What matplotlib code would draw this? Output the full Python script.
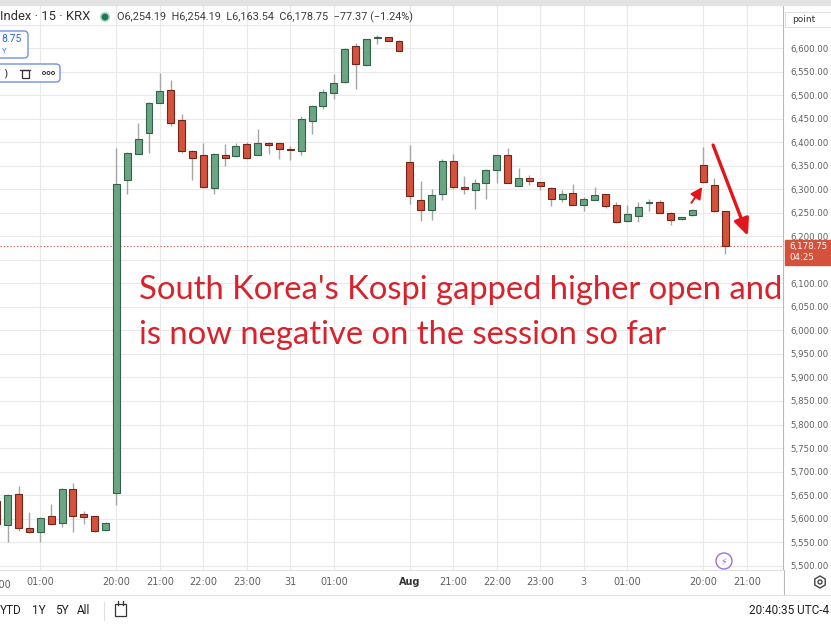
import numpy as np
import matplotlib.pyplot as plt
from matplotlib.patches import Rectangle, FancyBboxPatch, Circle, RegularPolygon

W, H = 831, 625

# 15 min candles, first one is partly cut off at the left edge
opens = [5638, 5587, 5653, 5581, 5572, 5605, 5591, 5663, 5610, 5605, 5575,
         5655, 6319, 6376, 6420, 6484, 6511, 6447, 6382, 6373, 6303, 6373, 6371, 6396, 6374,
         6399, 6398, 6386, 6381, 6445, 6477, 6504, 6528, 6605, 6564, 6621, 6623, 6615,
         6357, 6278, 6257, 6289, 6360, 6304, 6299, 6314, 6340, 6373, 6308, 6323, 6315,
         6303, 6280, 6293, 6267, 6278, 6289, 6266, 6232, 6243, 6271, 6272, 6250, 6236, 6245,
         6351, 6310, 6254.19]
highs = [5640, 5653, 5669, 5613, 5603, 5631, 5664, 5676, 5616, 5606, 5592,
         6387, 6380, 6442, 6486, 6548, 6532, 6461, 6384, 6398, 6377, 6396, 6398, 6401, 6428,
         6401, 6399, 6392, 6456, 6479, 6514, 6546, 6600, 6610, 6620, 6629, 6624, 6617,
         6394, 6318, 6301, 6364, 6376, 6328, 6321, 6344, 6373, 6387, 6346, 6330, 6316,
         6305, 6298, 6311, 6284, 6305, 6290, 6274, 6267, 6274, 6280, 6277, 6251, 6242, 6259,
         6390, 6324, 6254.19]
lows = [5586, 5551, 5573, 5570, 5551, 5587, 5582, 5571, 5589, 5571, 5574,
        5628, 6289, 6375, 6378, 6483, 6434, 6377, 6319, 6303, 6291, 6350, 6369, 6364, 6372,
        6376, 6365, 6362, 6374, 6418, 6470, 6493, 6527, 6514, 6562, 6608, 6615, 6593,
        6268, 6232, 6234, 6278, 6301, 6289, 6259, 6280, 6314, 6313, 6307, 6310, 6298,
        6264, 6274, 6266, 6253, 6277, 6260, 6229, 6230, 6230, 6253, 6249, 6225, 6235, 6244,
        6314, 6252, 6163.54]
closes = [5589, 5651, 5579, 5572, 5601, 5589, 5662, 5606, 5604, 5573, 5591,
          6312, 6378, 6406, 6484, 6508, 6440, 6381, 6367, 6305, 6375, 6367, 6393, 6367, 6398,
          6395, 6385, 6383, 6450, 6477, 6506, 6527, 6599, 6567, 6619, 6623, 6616, 6594,
          6285, 6255, 6287, 6360, 6304, 6301, 6314, 6340, 6372, 6314, 6323, 6318, 6306,
          6280, 6289, 6267, 6280, 6287, 6264, 6230, 6248, 6262, 6274, 6250, 6235, 6241, 6257,
          6315, 6254, 6178.75]

# candle number (0 = 00:15 of the first visible session) -> time axis label
tick_idx = [3, 10, 14, 18, 22, 26, 30, 37, 41, 45, 49, 53, 57, 64, 68]
tick_labels = ['01:00', '20:00', '21:00', '22:00', '23:00', '31', '01:00', 'Aug',
               '21:00', '22:00', '23:00', '3', '01:00', '20:00', '21:00']
price_ticks = [p for p in range(5500, 6650, 50) if p != 6150]

last_price = 6178.75
header_ohlc = 'O6,254.19  H6,254.19  L6,163.54  C6,178.75  \u221277.37 (\u22121.24%)'
note_lines = ["South Korea's Kospi gapped higher open and",
              "is now negative on the session so far"]

up_fill, up_edge = '#6ca583', '#33624a'
dn_fill, dn_edge = '#d4513b', '#72261b'
wick_col = '#a6a6a6'
grid_col = '#e9e9e9'
axis_txt = '#5f5f5f'
note_red = '#d8222c'

fig = plt.figure(figsize=(W / 100, H / 100), dpi=100)
fig.patch.set_facecolor('white')


def box(l, t, r, b):
    return [l / W, 1 - b / H, (r - l) / W, (b - t) / H]


ax = fig.add_axes(box(0, 6, 783, 570))
ax.set_facecolor('white')

o = np.array(opens)
h = np.array(highs)
l = np.array(lows)
c = np.array(closes)
x = np.arange(len(o)) - 1
up = c >= o

ax.vlines(x, l, h, color=wick_col, lw=1.0, zorder=2)
bottom = np.minimum(o, c)
height = np.maximum(np.abs(c - o), 2.5)
ax.bar(x[up], height[up], bottom=bottom[up], width=0.64, color=up_fill,
       edgecolor=up_edge, lw=0.8, zorder=3)
ax.bar(x[~up], height[~up], bottom=bottom[~up], width=0.64, color=dn_fill,
       edgecolor=dn_edge, lw=0.8, zorder=3)

ax.set_xlim(-0.708, 71.33)
ax.set_ylim(5490.7, 6689.7)

for p in range(5500, 6700, 50):
    ax.axhline(p, color=grid_col, lw=0.8, zorder=0)
for t in tick_idx:
    ax.axvline(t, color=grid_col, lw=0.8, zorder=0)

ax.axhline(last_price, color=dn_fill, lw=0.8, ls=(0, (1, 2)), zorder=1)

ax.set_xticks(tick_idx, tick_labels)
ax.tick_params(axis='x', length=0, pad=5, labelsize=7, labelcolor=axis_txt)
for lab in ax.get_xticklabels():
    if lab.get_text() == 'Aug':
        lab.set_color('#333333')
        lab.set_fontweight('bold')
ax.text(-1, -0.018, '00:00', transform=ax.get_xaxis_transform(), ha='center', va='top',
        fontsize=7, color=axis_txt, clip_on=False)

ax.yaxis.tick_right()
ax.set_yticks(price_ticks, [f'{p:,.2f}' for p in price_ticks])
ax.tick_params(axis='y', length=0, pad=5.5, labelsize=6.2, labelcolor=axis_txt)
for s in ['top', 'left']:
    ax.spines[s].set_visible(False)
ax.spines['bottom'].set_color('#e2e2e2')
ax.spines['right'].set_color('#b9b9b9')

# red arrows drawn on the chart
ax.annotate('', xy=(68.1, 6201), xytext=(64.9, 6394),
            arrowprops=dict(arrowstyle='-|>,head_length=1.0,head_width=0.45',
                            color='#e3151b', lw=2.4, shrinkA=0, shrinkB=0), zorder=6)
ax.annotate('', xy=(63.9, 6305), xytext=(62.9, 6271),
            arrowprops=dict(arrowstyle='-|>,head_length=0.7,head_width=0.35',
                            color='#e3151b', lw=1.4, shrinkA=0, shrinkB=0), zorder=6)

# overlay in pixel coordinates for the TradingView bits
ui = fig.add_axes([0, 0, 1, 1], zorder=5)
ui.set_xlim(0, W)
ui.set_ylim(H, 0)
ui.axis('off')
ui.patch.set_alpha(0)

ui.add_patch(Rectangle((0, 0), W, 5, color='#e3e3e3'))
ui.plot([783.5, 783.5], [570, 594], color='#b9b9b9', lw=0.8)
ui.plot([0, W], [594.5, 594.5], color='#e0e0e0', lw=0.8)

renderer = fig.canvas.get_renderer()


def fit_width(t, width_px):
    w = t.get_window_extent(renderer).width
    t.set_fontsize(t.get_fontsize() * width_px / w)


# header line
t1 = ui.text(0, 17, 'Index \u00b7 15 \u00b7 KRX', fontsize=9, family='Roboto',
             color='#303030', va='center')
fit_width(t1, 90)
ui.add_patch(Circle((105, 17), 4.5, color='#b9dccb'))
ui.add_patch(Circle((105, 17), 2.8, color='#1d7a55'))
t2 = ui.text(117, 17, header_ohlc, fontsize=9, family='Roboto', color='#3c3c3c', va='center')
fit_width(t2, 297)

# partial drawing-tool widgets on the left
ui.add_patch(FancyBboxPatch((-10, 31), 38, 27, boxstyle='round,pad=0,rounding_size=4',
                            fc='white', ec='#6f8fe0', lw=1))
ui.text(1, 39, '8.75', fontsize=7.5, color='#2962ff', va='center', family='Roboto')
ui.text(2, 51, 'Y', fontsize=5.5, color='#2962ff', va='center', family='Roboto')
ui.add_patch(FancyBboxPatch((-10, 64), 70, 18, boxstyle='round,pad=0,rounding_size=4',
                            fc='white', ec='#6f8fe0', lw=1))
ui.text(3, 73, ')', fontsize=8, color='#333333', va='center')
ui.add_patch(Rectangle((21.5, 70), 7, 8, fc='none', ec='#333333', lw=0.9))
ui.plot([20, 30], [70, 70], color='#333333', lw=0.9)
for dx in (44, 48.5, 53):
    ui.add_patch(Circle((dx, 73), 1.5, fc='none', ec='#333333', lw=0.7))

# price scale widgets
ui.add_patch(Rectangle((785, 12), 46, 15, fc='white', ec='#e0e0e0', lw=0.8))
ui.text(792, 19.5, 'point', fontsize=6.5, color='#333333', va='center')
ui.add_patch(Rectangle((785, 240), 46, 25, color=dn_fill))
ui.text(789, 247, f'{last_price:,.2f}', fontsize=6.2, color='white', va='center')
ui.text(789, 258, '04:25', fontsize=6.2, color='white', va='center')

# annotation text
n1 = ui.text(139, 298.7, note_lines[0], fontsize=22, family='Lato', color=note_red,
             va='baseline')
n2 = ui.text(139, 343.7, note_lines[1], fontsize=22, family='Lato', color=note_red,
             va='baseline')
fit_width(n1, 643)
n2.set_fontsize(n1.get_fontsize())

# small icons
ui.add_patch(Circle((724, 561), 8, fc='white', ec='#9b6fe0', lw=1))
ui.text(724, 561.5, '\u26a1', fontsize=7, color='#9b6fe0', ha='center', va='center')
ui.add_patch(RegularPolygon((820, 582), 6, radius=6, fc='none', ec='#444444', lw=1))
ui.add_patch(Circle((820, 582), 2, fc='none', ec='#444444', lw=1))

# bottom toolbar
for lbl, px in [('YTD', 0), ('1Y', 32), ('5Y', 55), ('All', 77)]:
    ui.text(px, 611, lbl, fontsize=8.5, color='#222222', va='center', family='Roboto')
ui.plot([104, 104], [602, 620], color='#e0e0e0', lw=0.8)
ui.add_patch(Rectangle((115, 604), 11, 12, fc='none', ec='#333333', lw=0.9))
ui.plot([118, 118], [601, 605], color='#333333', lw=0.9)
ui.plot([123, 123], [601, 605], color='#333333', lw=0.9)
ui.text(829, 611, '20:40:35 UTC-4', fontsize=8.5, color='#222222', va='center', ha='right',
        family='Roboto')

fig.savefig('out.png', dpi=100)
